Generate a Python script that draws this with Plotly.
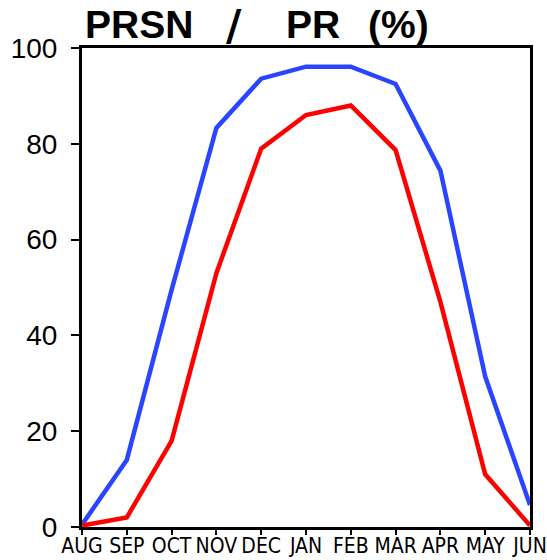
import plotly.graph_objects as go

months = ["AUG", "SEP", "OCT", "NOV", "DEC", "JAN", "FEB", "MAR", "APR", "MAY", "JUN"]
blue_vals = [0.5, 14, 49.5, 83.3, 93.6, 96.1, 96.1, 92.5, 74.4, 31.4, 4.6]
red_vals = [0.3, 2, 18, 53, 79, 86, 88, 78.7, 47, 11, 0.3]
y_ticks = [0, 20, 40, 60, 80, 100]
title_parts = ["PRSN", "/", "PR", "(%)"]

x_idx = list(range(len(months)))

fig = go.Figure()
fig.add_trace(go.Scatter(x=x_idx, y=blue_vals, mode="lines",
                         line=dict(color="#2a45ff", width=4.5)))
fig.add_trace(go.Scatter(x=x_idx, y=red_vals, mode="lines",
                         line=dict(color="#ff0000", width=4.5)))

fig.update_layout(
    width=547, height=560,
    margin=dict(l=82, r=17, t=48, b=33, autoexpand=False),
    paper_bgcolor="white", plot_bgcolor="white",
    showlegend=False,
    font=dict(family="Liberation Sans", color="black"),
)
fig.update_xaxes(
    range=[0, len(months) - 1], tickmode="array", tickvals=x_idx, ticktext=months,
    automargin=False, ticklabeloverflow="allow",
    showgrid=False, zeroline=False, showline=True, linecolor="black", linewidth=3,
    mirror=True, ticks="outside", ticklen=5, tickwidth=2, tickcolor="black",
    ticklabelstandoff=-7,
    tickfont=dict(size=21, family="DejaVu Sans Condensed, Liberation Sans", color="black"),
)
fig.update_yaxes(
    range=[0, 100], tickmode="array", tickvals=y_ticks, automargin=False,
    showgrid=False, zeroline=False, showline=True, linecolor="black", linewidth=3,
    mirror=True, ticks="outside", ticklen=8, tickwidth=2, tickcolor="black",
    ticklabelstandoff=8,
    tickfont=dict(size=28, family="Liberation Sans", color="black"),
)

# title pieces spread across the top of the frame
title_x = [0.003, 0.318, 0.45, 0.635]
title_fonts = ["Liberation Sans", "DejaVu Sans", "Liberation Sans", "Liberation Sans"]
title_sizes = [39, 42, 39, 39]
title_shift = [0, -4, 0, 0]
for part, px, fam, sz, sh in zip(title_parts, title_x, title_fonts, title_sizes, title_shift):
    fig.add_annotation(
        text=f"<b>{part}</b>", xref="paper", yref="paper",
        x=px, y=1.0, xanchor="left", yanchor="bottom", yshift=sh,
        showarrow=False, font=dict(size=sz, family=fam, color="black"),
    )

fig.write_html("out.html")
